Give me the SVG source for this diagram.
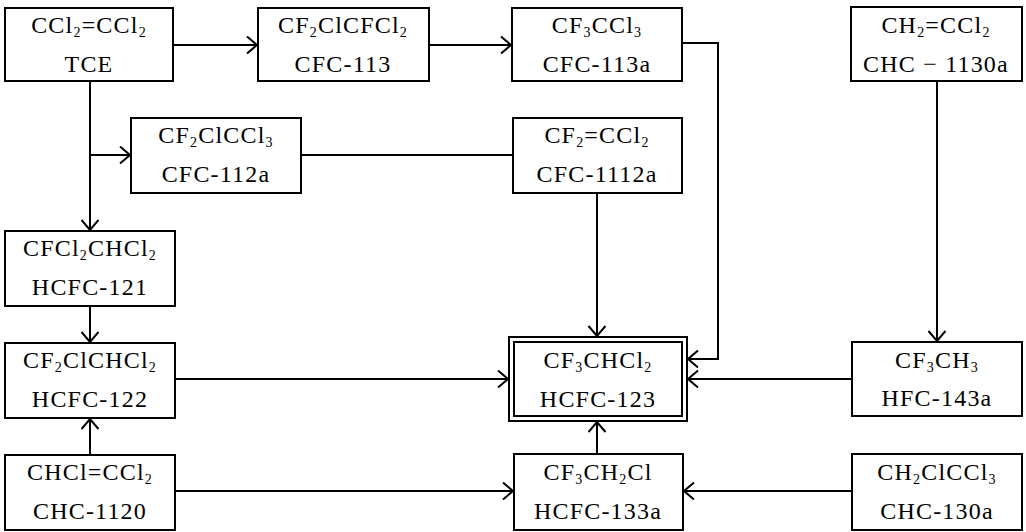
<svg xmlns="http://www.w3.org/2000/svg" width="1026" height="532" viewBox="0 0 1026 532">
<style>
.box{fill:#fff;stroke:#000;stroke-width:2}
.t{font-family:"Liberation Serif","DejaVu Serif",serif;font-size:24px;fill:#000;text-anchor:middle;letter-spacing:1.2px}
.s{font-size:14px}
.c{fill:none;stroke:#000;stroke-width:2}
</style>
<defs>
<marker id="a" markerUnits="userSpaceOnUse" markerWidth="14" markerHeight="20" refX="11" refY="9" orient="auto" viewBox="0 0 14 20">
<path d="M1,0.5 L11,9 L1,17.5" fill="none" stroke="#000" stroke-width="2"/>
</marker>
</defs>
<rect width="1026" height="532" fill="#fff"/>
<g id="connectors">
<line class="c" x1="173" y1="45" x2="257" y2="45" marker-end="url(#a)"/>
<line class="c" x1="429" y1="45" x2="511" y2="45" marker-end="url(#a)"/>
<polyline class="c" points="682,43 718,43 718,359 688,359" marker-end="url(#a)"/>
<line class="c" x1="90" y1="81" x2="90" y2="230" marker-end="url(#a)"/>
<line class="c" x1="90" y1="155" x2="130" y2="155" marker-end="url(#a)"/>
<line class="c" x1="301" y1="155" x2="513" y2="155"/>
<line class="c" x1="597" y1="193" x2="597" y2="336" marker-end="url(#a)"/>
<line class="c" x1="90" y1="306" x2="90" y2="342" marker-end="url(#a)"/>
<line class="c" x1="90" y1="455" x2="90" y2="419" marker-end="url(#a)"/>
<line class="c" x1="175" y1="379" x2="508" y2="379" marker-end="url(#a)"/>
<line class="c" x1="937" y1="81" x2="937" y2="341" marker-end="url(#a)"/>
<line class="c" x1="852" y1="379" x2="688" y2="379" marker-end="url(#a)"/>
<line class="c" x1="175" y1="491" x2="513" y2="491" marker-end="url(#a)"/>
<line class="c" x1="852" y1="491" x2="684" y2="491" marker-end="url(#a)"/>
<line class="c" x1="597" y1="454" x2="597" y2="422" marker-end="url(#a)"/>
</g>
<g id="tce">
<rect class="box" x="5" y="8" width="168" height="73"/>
<text class="t" x="89" y="33">CCl<tspan class="s" dy="4">2</tspan><tspan dy="-4">=CCl</tspan><tspan class="s" dy="4">2</tspan></text>
<text class="t" x="89" y="72">TCE</text>
</g>
<g id="cfc113">
<rect class="box" x="258" y="8" width="171" height="73"/>
<text class="t" x="343" y="33">CF<tspan class="s" dy="4">2</tspan><tspan dy="-4">ClCFCl</tspan><tspan class="s" dy="4">2</tspan></text>
<text class="t" x="343" y="72">CFC-113</text>
</g>
<g id="cfc113a">
<rect class="box" x="512" y="8" width="170" height="73"/>
<text class="t" x="597" y="33">CF<tspan class="s" dy="4">3</tspan><tspan dy="-4">CCl</tspan><tspan class="s" dy="4">3</tspan></text>
<text class="t" x="597" y="72">CFC-113a</text>
</g>
<g id="chc1130a">
<rect class="box" x="851" y="7" width="171" height="74"/>
<text class="t" x="936" y="33">CH<tspan class="s" dy="4">2</tspan><tspan dy="-4">=CCl</tspan><tspan class="s" dy="4">2</tspan></text>
<text class="t" x="936" y="72">CHC − 1130a</text>
</g>
<g id="cfc112a">
<rect class="box" x="131" y="118" width="170" height="75"/>
<text class="t" x="216" y="143">CF<tspan class="s" dy="4">2</tspan><tspan dy="-4">ClCCl</tspan><tspan class="s" dy="4">3</tspan></text>
<text class="t" x="216" y="182">CFC-112a</text>
</g>
<g id="cfc1112a">
<rect class="box" x="513" y="118" width="169" height="75"/>
<text class="t" x="597" y="143">CF<tspan class="s" dy="4">2</tspan><tspan dy="-4">=CCl</tspan><tspan class="s" dy="4">2</tspan></text>
<text class="t" x="597" y="182">CFC-1112a</text>
</g>
<g id="hcfc121">
<rect class="box" x="5" y="231" width="170" height="75"/>
<text class="t" x="90" y="256">CFCl<tspan class="s" dy="4">2</tspan><tspan dy="-4">CHCl</tspan><tspan class="s" dy="4">2</tspan></text>
<text class="t" x="90" y="295">HCFC-121</text>
</g>
<g id="hcfc122">
<rect class="box" x="5" y="343" width="170" height="75"/>
<text class="t" x="90" y="368">CF<tspan class="s" dy="4">2</tspan><tspan dy="-4">ClCHCl</tspan><tspan class="s" dy="4">2</tspan></text>
<text class="t" x="90" y="407">HCFC-122</text>
</g>
<g id="hcfc123">
<rect class="box" x="509" y="337" width="178" height="84"/>
<rect class="box" x="514" y="342" width="168" height="74"/>
<text class="t" x="598" y="368">CF<tspan class="s" dy="4">3</tspan><tspan dy="-4">CHCl</tspan><tspan class="s" dy="4">2</tspan></text>
<text class="t" x="598" y="407">HCFC-123</text>
</g>
<g id="hfc143a">
<rect class="box" x="852" y="342" width="170" height="74"/>
<text class="t" x="937" y="368">CF<tspan class="s" dy="4">3</tspan><tspan dy="-4">CH</tspan><tspan class="s" dy="4">3</tspan></text>
<text class="t" x="937" y="406">HFC-143a</text>
</g>
<g id="chc1120">
<rect class="box" x="5" y="455" width="170" height="75"/>
<text class="t" x="90" y="480">CHCl=CCl<tspan class="s" dy="4">2</tspan></text>
<text class="t" x="90" y="519">CHC-1120</text>
</g>
<g id="hcfc133a">
<rect class="box" x="514" y="454" width="169" height="76"/>
<text class="t" x="598" y="480">CF<tspan class="s" dy="4">3</tspan><tspan dy="-4">CH</tspan><tspan class="s" dy="4">2</tspan><tspan dy="-4">Cl</tspan></text>
<text class="t" x="598" y="519">HCFC-133a</text>
</g>
<g id="chc130a">
<rect class="box" x="852" y="454" width="170" height="76"/>
<text class="t" x="937" y="480">CH<tspan class="s" dy="4">2</tspan><tspan dy="-4">ClCCl</tspan><tspan class="s" dy="4">3</tspan></text>
<text class="t" x="937" y="519">CHC-130a</text>
</g>
</svg>
